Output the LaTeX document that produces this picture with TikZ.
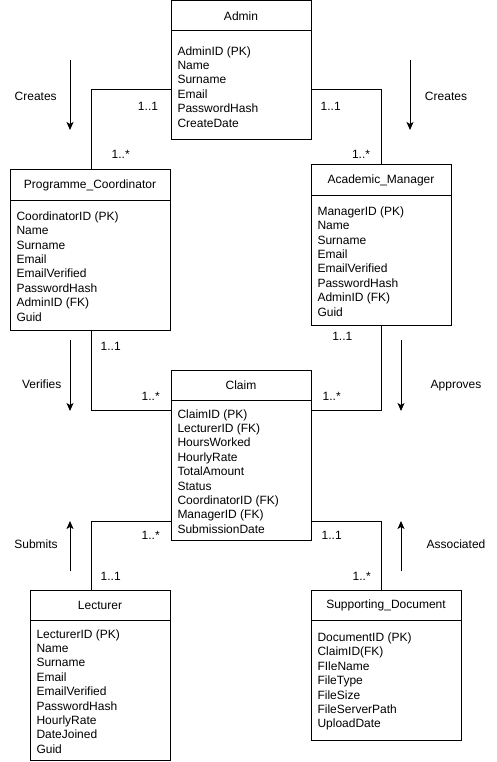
\documentclass[tikz,border=0pt]{standalone}
\usepackage{fontspec}
\setmainfont{Liberation Sans}
\usetikzlibrary{arrows.meta}

% Entity box: name, left, top, width, height, title, attribute lines
\newcommand\erentity[7]{%
  \node[ebox, minimum width=#4pt, minimum height=#5pt] (#1) at (#2,#3) {};
  \draw ([yshift=-30pt]#1.north west) -- ([yshift=-30pt]#1.north east);
  \node[txt] (#1-title) at ({#2+#4/2},{#3+15.5}) {#6};
  \node[attrs] (#1-attrs) at ({#2+6},{#3+31.5+(#5-30)/2}) {#7};
}

\begin{document}
\begin{tikzpicture}[x=1pt, y=-1pt, line width=1pt,
  ebox/.style={draw, anchor=north west, inner sep=0pt, outer sep=0pt},
  txt/.style={font=\fontsize{12}{14.4}\selectfont, inner sep=0pt},
  attrs/.style={txt, align=left, anchor=west},
  mult/.style={txt},
  flow/.style={-{Stealth[length=8pt, width=7pt, inset=2pt]}}]
\useasboundingbox (0,0) rectangle (496,762);

% Entities
\erentity{Admin}{171}{0.5}{140}{139.5}{Admin}
  {AdminID (PK)\\Name\\Surname\\Email\\PasswordHash\\CreateDate}
\erentity{PC}{10}{170}{160}{160}{Programme\_Coordinator}
  {CoordinatorID (PK)\\Name\\Surname\\Email\\EmailVerified\\PasswordHash\\AdminID (FK)\\Guid}
\erentity{AM}{311}{165}{140}{160}{Academic\_Manager}
  {ManagerID (PK)\\Name\\Surname\\Email\\EmailVerified\\PasswordHash\\AdminID (FK)\\Guid}
\erentity{Claim}{171}{370}{140}{170}{Claim}
  {ClaimID (PK)\\LecturerID (FK)\\HoursWorked\\HourlyRate\\TotalAmount\\Status\\CoordinatorID (FK)\\ManagerID (FK)\\SubmissionDate}
\erentity{Lec}{30}{590}{140}{170}{Lecturer}
  {LecturerID (PK)\\Name\\Surname\\Email\\EmailVerified\\PasswordHash\\HourlyRate\\DateJoined\\Guid}
\erentity{SD}{311}{590}{150}{150}{Supporting\_Document}
  {DocumentID (PK)\\ClaimID(FK)\\FIleName\\FileType\\FileSize\\FileServerPath\\UploadDate}

% Bend points of the relationship lines
\coordinate (k1) at (91,90);
\coordinate (k2) at (381,90);
\coordinate (k3) at (91,410);
\coordinate (k4) at (381,410);
\coordinate (k5) at (91,521);
\coordinate (k6) at (381,521);

% Relationship lines
\draw (k1 -| Admin.west) -| (k1 |- PC.north);
\draw (k2 -| Admin.east) -| (k2 |- AM.north);
\draw (k3 |- PC.south) |- (k3 -| Claim.west);
\draw (k4 |- AM.south) |- (k4 -| Claim.east);
\draw (k5 -| Claim.west) -| (k5 |- Lec.north);
\draw (k6 -| Claim.east) -| (k6 |- SD.north);

% Multiplicities
\node[mult] (m1) at (148,106.5) {1..1};
\node[mult] (m2) at (120.7,154.5) {1..*};
\node[mult] (m3) at (330.7,106.5) {1..1};
\node[mult] (m4) at (361,154.5) {1..*};
\node[mult] (m5) at (110.7,346) {1..1};
\node[mult] (m6) at (150.7,396.5) {1..*};
\node[mult] (m7) at (342.3,336) {1..1};
\node[mult] (m8) at (331.7,396.5) {1..*};
\node[mult] (m9) at (150.7,535.5) {1..*};
\node[mult] (m10) at (331.7,535.5) {1..1};
\node[mult] (m11) at (110.7,576) {1..1};
\node[mult] (m12) at (361.7,576) {1..*};

% Relationship names
\node[txt] (lCreatesL) at (35.7,96.5) {Creates};
\node[txt] (lCreatesR) at (446,96.5) {Creates};
\node[txt] (lVerifies) at (41.7,384.5) {Verifies};
\node[txt] (lApproves) at (456,386) {Approves};
\node[txt] (lSubmits) at (36,543.8) {Submits};
\node[txt] (lAssoc) at (456,543.8) {Associated};

% Direction arrows
\coordinate (a1s) at (70,60);   \coordinate (a1e) at (70,130);
\coordinate (a2s) at (410,60);  \coordinate (a2e) at (410,130);
\coordinate (a3s) at (70,340);  \coordinate (a3e) at (70,411);
\coordinate (a4s) at (401,340); \coordinate (a4e) at (401,411);
\coordinate (a5s) at (70,571);  \coordinate (a5e) at (70,521);
\coordinate (a6s) at (401,571); \coordinate (a6e) at (401,521);
\draw[flow] (a1s) -- (a1e);
\draw[flow] (a2s) -- (a2e);
\draw[flow] (a3s) -- (a3e);
\draw[flow] (a4s) -- (a4e);
\draw[flow] (a5s) -- (a5e);
\draw[flow] (a6s) -- (a6e);
\end{tikzpicture}
\end{document}
